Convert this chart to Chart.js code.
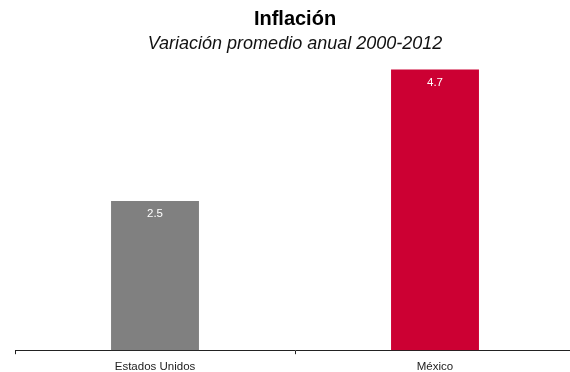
<!DOCTYPE html>
<html lang="es">
<head>
<meta charset="UTF-8">
<title>Inflación</title>
<script src="https://cdn.jsdelivr.net/npm/chart.js"></script>
<style>
    html, body {
        margin: 0;
        padding: 0;
        background: #ffffff;
        overflow: hidden;
        width: 570px;
        height: 372px;
    }
    canvas { display: block; }
</style>
</head>
<body>
<canvas id="inflacion" width="590" height="372"></canvas>
<script>
    // datos: inflación promedio anual 2000-2012 (%)
    const paises = ['Estados Unidos', 'México'];
    const inflacion = [2.5, 4.7];
    const colores = ['#808080', '#CC0033'];

    // escribe el valor dentro de cada barra, cerca del borde superior
    const etiquetasValor = {
        id: 'etiquetasValor',
        afterDatasetsDraw(chart) {
            const ctx = chart.ctx;
            const meta = chart.getDatasetMeta(0);
            ctx.save();
            ctx.font = '11.5px "Liberation Sans", Arial, sans-serif';
            ctx.fillStyle = '#ffffff';
            ctx.textAlign = 'center';
            ctx.textBaseline = 'middle';
            meta.data.forEach((bar, i) => {
                ctx.fillText(inflacion[i].toFixed(1), bar.x, bar.y + 13);
            });
            ctx.restore();
        }
    };

    new Chart(document.getElementById('inflacion'), {
        type: 'bar',
        data: {
            labels: paises,
            datasets: [{
                data: inflacion,
                backgroundColor: colores,
                borderWidth: 0,
                barPercentage: 0.314,
                categoryPercentage: 1
            }]
        },
        options: {
            responsive: false,
            animation: false,
            layout: { padding: { left: 15, right: 15, top: 0, bottom: -8 } },
            scales: {
                y: {
                    display: false,
                    min: 0,
                    max: 4.95
                },
                x: {
                    grid: {
                        display: true,
                        drawOnChartArea: false,
                        drawTicks: true,
                        tickLength: 4,
                        color: '#222222'
                    },
                    border: { display: true, color: '#222222', width: 1 },
                    ticks: {
                        color: '#222222',
                        padding: 6,
                        font: { family: '"Liberation Sans", Arial, sans-serif', size: 11.5 }
                    }
                }
            },
            plugins: {
                legend: { display: false },
                tooltip: { enabled: false },
                title: {
                    display: true,
                    text: 'Inflación',
                    color: '#000000',
                    font: { family: '"Liberation Sans", Arial, sans-serif', size: 20, weight: 'bold' },
                    padding: { top: 7, bottom: 0 }
                },
                subtitle: {
                    display: true,
                    text: 'Variación promedio anual 2000-2012',
                    color: '#111111',
                    font: { family: '"Liberation Sans", Arial, sans-serif', size: 18, style: 'italic' },
                    padding: { top: 2, bottom: 0 }
                }
            }
        },
        plugins: [etiquetasValor]
    });
</script>
</body>
</html>
